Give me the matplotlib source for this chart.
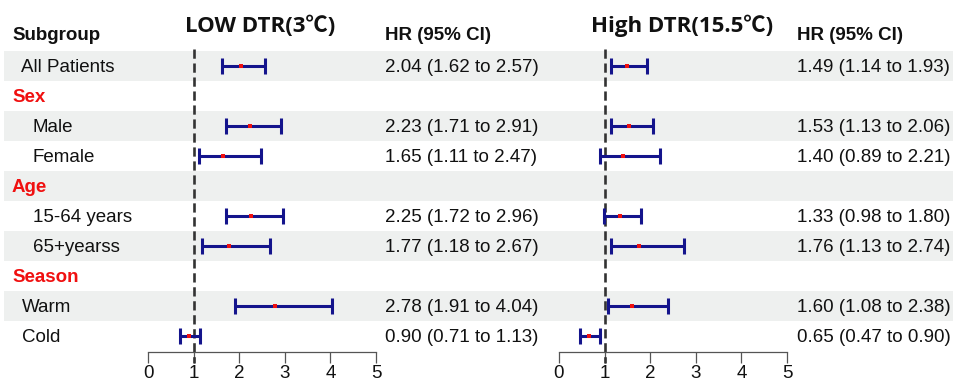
import numpy as np
import matplotlib.pyplot as plt

# rows of the table (headers in red)
labels = ["All Patients", "Sex", "Male", "Female", "Age", "15-64 years",
          "65+yearss", "Season", "Warm", "Cold"]
is_header = [False, True, False, False, True, False, False, True, False, False]
indent = [21, 12, 33, 33, 12, 33, 33, 12, 22, 22]

nan = np.nan
low_hr = [2.04, nan, 2.23, 1.65, nan, 2.25, 1.77, nan, 2.78, 0.90]
low_lo = [1.62, nan, 1.71, 1.11, nan, 1.72, 1.18, nan, 1.91, 0.71]
low_hi = [2.57, nan, 2.91, 2.47, nan, 2.96, 2.67, nan, 4.04, 1.13]

high_hr = [1.49, nan, 1.53, 1.40, nan, 1.33, 1.76, nan, 1.60, 0.65]
high_lo = [1.14, nan, 1.13, 0.89, nan, 0.98, 1.13, nan, 1.08, 0.47]
high_hi = [1.93, nan, 2.06, 2.21, nan, 1.80, 2.74, nan, 2.38, 0.90]

ticks = [0, 1, 2, 3, 4, 5]

W, H = 954, 381
fig = plt.figure(figsize=(W / 100, H / 100), dpi=100)

# background axes in pixel coordinates
bg = fig.add_axes([0, 0, 1, 1])
bg.set_xlim(0, W)
bg.set_ylim(H, 0)
bg.axis("off")

row0, pitch = 66, 30
txt = "#111111"
red = "#f01010"
font = ["Liberation Sans", "DejaVu Sans"]
title_font = ["Open Sans", "Noto Sans CJK SC", "DejaVu Sans"]

for i, lab in enumerate(labels):
    y = row0 + pitch * i
    if i % 2 == 0:
        bg.add_patch(plt.Rectangle((4, y - 15), W - 4, 30, color="#eef0ef", lw=0, zorder=0))
    if is_header[i]:
        bg.text(indent[i], y + 1.5, lab, color=red, fontsize=13.5, fontweight="bold",
                va="center", family=font)
    else:
        bg.text(indent[i], y + 1.5, lab, color=txt, fontsize=13.5, va="center", family=font)

bg.text(12, 35, "Subgroup", fontsize=13.5, fontweight="bold", va="center", color=txt, family=font)
bg.text(385, 35, "HR (95% CI)", fontsize=13.5, fontweight="bold", va="center", color=txt, family=font)
bg.text(797, 36, "HR (95% CI)", fontsize=13.5, fontweight="bold", va="center", color=txt, family=font)
bg.text(260, 26, "LOW DTR(3℃)", fontsize=16, fontweight="bold", ha="center", va="center",
        color=txt, family=title_font)
bg.text(682, 26, "High DTR(15.5℃)", fontsize=16, fontweight="bold", ha="center", va="center",
        color=txt, family=title_font)


def forest(x0, x1, hr, lo, hi, text_x):
    top, bottom = 50, 352
    ax = fig.add_axes([x0 / W, (H - bottom) / H, (x1 - x0) / W, (bottom - top) / H])
    ax.patch.set_alpha(0)
    n = len(labels)
    ax.set_xlim(0, 5)
    ax.set_ylim(n - 0.4667, -0.5333)
    rows = np.arange(n)
    hr, lo, hi = np.array(hr), np.array(lo), np.array(hi)
    ok = ~np.isnan(hr)
    ax.plot([1, 1], [-0.55, n - 0.1], ls="--", color="#333333", lw=1.9,
            dashes=(3.5, 1.8), clip_on=False, zorder=2)
    ax.errorbar(hr[ok], rows[ok], xerr=[hr[ok] - lo[ok], hi[ok] - hr[ok]], fmt="none",
                ecolor="#14148c", elinewidth=2.2, capsize=5.5, capthick=2.2, zorder=3)
    ax.plot(hr[ok], rows[ok], "s", color=red, ms=2.3, mew=0, zorder=4)
    for s in ["top", "left", "right"]:
        ax.spines[s].set_visible(False)
    ax.spines["bottom"].set_color("#555555")
    ax.spines["bottom"].set_linewidth(0.9)
    ax.set_yticks([])
    ax.set_xticks(ticks)
    ax.tick_params(axis="x", length=8, width=0.9, color="#555555", labelsize=13.5,
                   labelcolor=txt, pad=1)
    for lab in ax.get_xticklabels():
        lab.set_family(font)
    for i in rows[ok]:
        bg.text(text_x, row0 + pitch * i + 1.5, f"{hr[i]:.2f} ({lo[i]:.2f} to {hi[i]:.2f})",
                fontsize=13.5, va="center", color=txt, family=font)
    return ax


forest(148, 376, low_hr, low_lo, low_hi, 385)
forest(559, 787, high_hr, high_lo, high_hi, 797)

fig.savefig("out.png", dpi=100)
